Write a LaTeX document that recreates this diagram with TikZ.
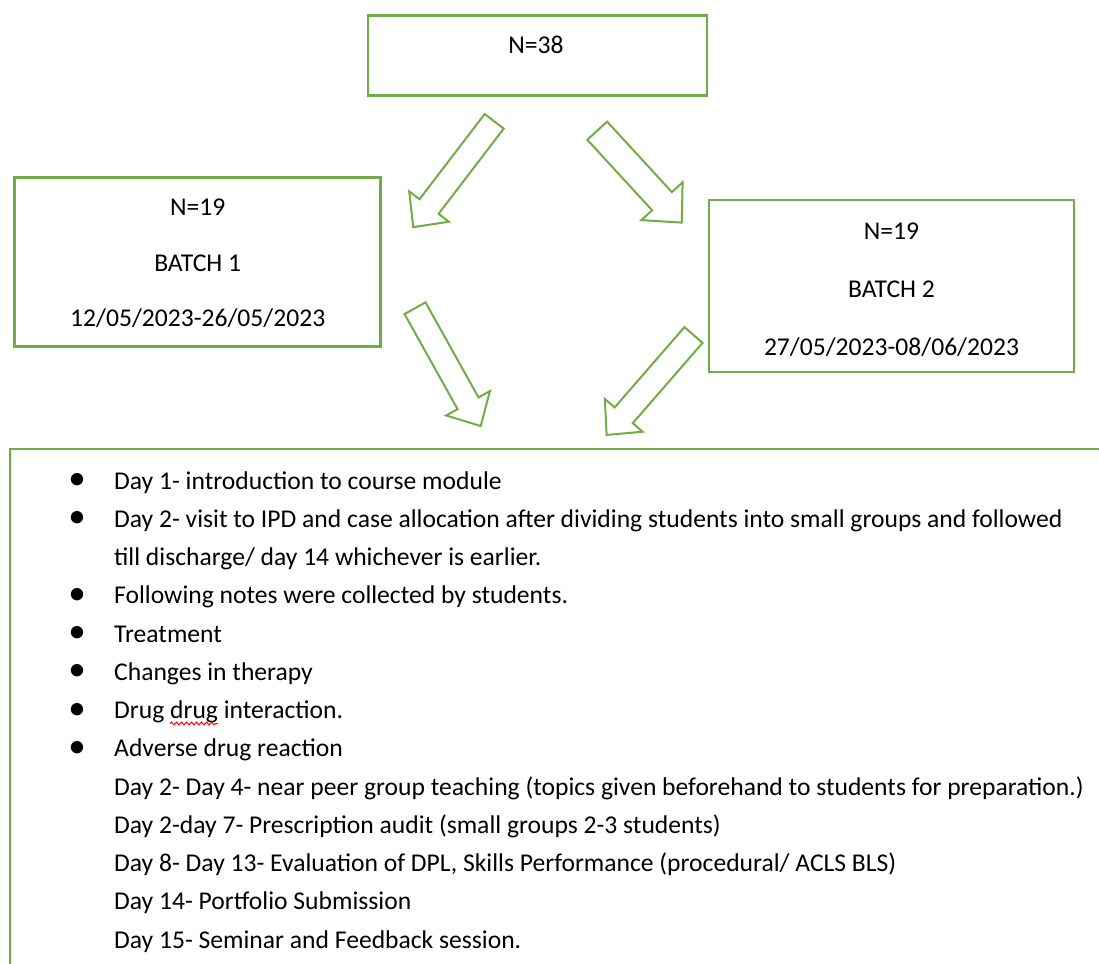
\documentclass[tikz,border=0pt]{standalone}
\usepackage{fontspec}
\setmainfont{Carlito}
\usetikzlibrary{positioning,decorations.pathmorphing}

\definecolor{boxgreen}{RGB}{112,173,71}

\newlength{\wavestart}
\newlength{\wavelen}

\begin{document}
\settowidth{\wavestart}{\fontsize{25.6}{30}\selectfont Drug\ }%
\settowidth{\wavelen}{\fontsize{25.6}{30}\selectfont drug}%
\begin{tikzpicture}[
    x=1pt, y=-1pt,
    font=\fontsize{25.6}{30}\selectfont,
    groupbox/.style={rectangle,draw=boxgreen,line width=2.8pt,inner sep=0pt},
    boxtext/.style={anchor=base,inner sep=0pt},
    listline/.style={anchor=base west,inner sep=0pt},
    dot/.style={inner sep=0pt,font=\fontsize{35}{35}\selectfont},
    spellcheck/.style={draw=red,line width=1pt,decorate,decoration={snake,amplitude=1.4pt,segment length=5pt}},
    pics/bigarrow/.style={code={
        \draw[boxgreen,line width=2pt,fill=white,line join=miter]
            (0,-12) -- ({#1-26},-12) -- ({#1-26},-25) -- (#1,0)
            -- ({#1-26},25) -- ({#1-26},12) -- (0,12) -- cycle;
    }}
]
\clip (0,0) rectangle (1099,963);

% Boxes
\node[groupbox,minimum width=339pt,minimum height=80pt] (total) at (537.5,55.5) {};
\node[groupbox,minimum width=366pt,minimum height=169pt] (batch1) at (197.7,261.7) {};
\node[groupbox,minimum width=365pt,minimum height=172pt] (batch2) at (891.5,285.9) {};
\draw[boxgreen,line width=2.8pt] (10,1000) |- (1130,449);

% Box texts
\node[boxtext] (totaln) at (536,53.5) {N=38};

\node[boxtext] (b1n) at (197.7,215) {N=19};
\node[boxtext] (b1name) at (197.7,271) {BATCH 1};
\node[boxtext] (b1date) at (197.7,326.7) {12/05/2023-26/05/2023};

\node[boxtext] (b2n) at (891.5,239.3) {N=19};
\node[boxtext] (b2name) at (891.5,297.3) {BATCH 2};
\node[boxtext] (b2date) at (891.5,355.7) {27/05/2023-08/06/2023};

% Block arrows
\pic[rotate=232.6] at (494.2,121.3) {bigarrow=133.3};
\pic[rotate=-47.4,scale=1.12] at (597.2,130.7) {bigarrow=111.5};
\pic[rotate=-60.85] at (415,308.2) {bigarrow=134.9};
\pic[rotate=229] at (693.5,335) {bigarrow=132.4};

% Schedule list
\node[dot] (d1) at (77,481.7) {\textbullet};
\node[dot] (d2) at (77,519.95) {\textbullet};
\node[dot] (d4) at (77,596.45) {\textbullet};
\node[dot] (d5) at (77,634.7) {\textbullet};
\node[dot] (d6) at (77,672.95) {\textbullet};
\node[dot] (d7) at (77,711.2) {\textbullet};
\node[dot] (d8) at (77,749.45) {\textbullet};

\node[listline] (l1) at (114,489) {Day 1- introduction to course module};
\node[listline] (l2) at (114,527.25) {Day 2- visit to IPD and case allocation after dividing students into small groups and followed};
\node[listline] (l3) at (114,565.5) {till discharge/ day 14 whichever is earlier.};
\node[listline] (l4) at (114,603.75) {Following notes were collected by students.};
\node[listline] (l5) at (114,642) {Treatment};
\node[listline] (l6) at (114,680.25) {Changes in therapy};
\node[listline] (l7) at (114,718.5) {Drug drug interaction.};
\node[listline] (l8) at (114,756.75) {Adverse drug reaction};
\node[listline] (l9) at (114,795) {Day 2- Day 4- near peer group teaching (topics given beforehand to students for preparation.)};
\node[listline] (l10) at (114,833.25) {Day 2-day 7- Prescription audit (small groups 2-3 students)};
\node[listline] (l11) at (114,871.5) {Day 8- Day 13- Evaluation of DPL, Skills Performance (procedural/ ACLS BLS)};
\node[listline] (l12) at (114,909.75) {Day 14- Portfolio Submission};
\node[listline] (l13) at (114,948) {Day 15- Seminar and Feedback session.};

% spell-check mark under the second "drug"
\path[spellcheck] ([xshift=\wavestart,yshift=-5pt]l7.base west) -- ++(\wavelen,0);

\end{tikzpicture}
\end{document}
